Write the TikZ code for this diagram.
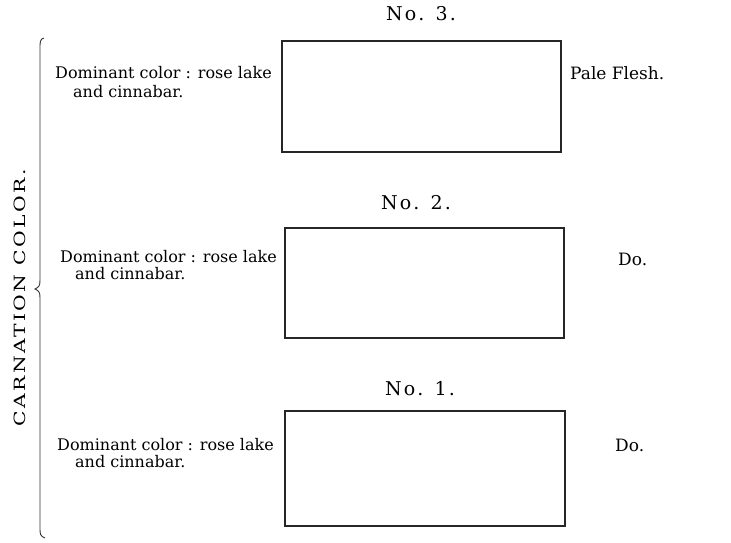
\documentclass[tikz,border=0pt]{standalone}
\usepackage{fontspec}
\setmainfont{DejaVu Serif}
\usepackage{graphicx}
\tikzset{
  panel/.style={draw=black!85, line width=1.3pt},
  lbl/.style={inner sep=0pt, anchor=base west, font=\fontsize{16}{18}\selectfont},
  num/.style={inner sep=0pt, anchor=base, font=\fontsize{19}{21}\selectfont\addfontfeature{LetterSpace=12}},
  side/.style={inner sep=0pt, anchor=base west, font=\fontsize{17}{19}\selectfont},
}
\begin{document}
\begin{tikzpicture}[x=1pt,y=-1pt]
\useasboundingbox[fill=white] (0,0) rectangle (731,542);
% boxes
\draw[panel] (282,41) rectangle (561,152);
\draw[panel] (285,228) rectangle (564,338);
\draw[panel] (285,411) rectangle (565,526);
% numbers
\node[num] (n3) at (421,20) {No. 3.};
\node[num] (n2) at (416,209) {No. 2.};
\node[num] (n1) at (420,395) {No. 1.};
% left labels
\node[lbl] (a1) at (55,78) {Dominant color : rose lake};
\node[lbl] (b1) at (73,97) {and cinnabar.};
\node[lbl] (a2) at (60,262) {Dominant color : rose lake};
\node[lbl] (b2) at (75,279) {and cinnabar.};
\node[lbl] (a3) at (57,450) {Dominant color : rose lake};
\node[lbl] (b3) at (75,467) {and cinnabar.};
% right labels
\node[side] (r3) at (570,79) {Pale Flesh.};
\node[side] (r2) at (618,265) {Do.};
\node[side] (r1) at (615,451) {Do.};
% brace
\draw[line width=0.9pt, black!80]
  (44,38) .. controls (40,39) and (40,42) .. (40,48)
  -- (40,280) .. controls (40,286) and (39,287) .. (35,289)
  .. controls (39,291) and (40,292) .. (40,298)
  -- (40,528) .. controls (40,534) and (40,536) .. (45,538);
\node[rotate=90, inner sep=0pt] (cc) at (20,298)
  {\resizebox{257pt}{11.5pt}{\fontsize{16}{18}\selectfont\addfontfeature{LetterSpace=12}CARNATION COLOR.}};
\end{tikzpicture}
\end{document}
